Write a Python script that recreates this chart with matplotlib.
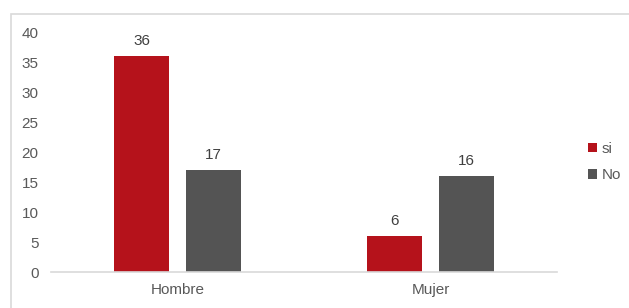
import matplotlib.pyplot as plt
import numpy as np
from matplotlib.patches import Rectangle

categories = ['Hombre', 'Mujer']
si_values = [36, 6]
no_values = [17, 16]
series_names = ['si', 'No']

plt.rcParams['font.family'] = ['Liberation Sans', 'DejaVu Sans']

W, H = 629, 308
fig = plt.figure(figsize=(W / 100, H / 100), dpi=100)
ax = fig.add_axes([51 / W, (H - 272) / H, (557 - 51) / W, (272 - 32) / H])

# outer chart border (only top/left visible in the original)
fig.patches.append(Rectangle((11 / W, -0.5), 2, 0.5 + (H - 14) / H,
                             transform=fig.transFigure, fill=False,
                             edgecolor='#d9d9d9', linewidth=1.2))

x = np.arange(len(categories))
w = 0.22
off = 0.142
red = '#b5121b'
grey = '#545454'
text_c = '#595959'

b1 = ax.bar(x - off, si_values, w, color=red, label=series_names[0])
b2 = ax.bar(x + off, no_values, w, color=grey, label=series_names[1])

for bars in (b1, b2):
    for r in bars:
        ax.annotate(f'{int(r.get_height())}', xy=(r.get_x() + r.get_width() / 2, r.get_height()),
                    xytext=(0, 6), textcoords='offset points', ha='center', va='bottom',
                    fontsize=11, color='#404040')

ax.set_xlim(-0.5, 1.5)
ax.set_ylim(0, 40)
ax.set_yticks(range(0, 41, 5))
ax.set_xticks(x)
ax.set_xticklabels(categories)
ax.tick_params(length=0, labelsize=11, colors=text_c, pad=8)
ax.tick_params(axis='y', pad=9)
for s in ['top', 'right', 'left']:
    ax.spines[s].set_visible(False)
ax.spines['bottom'].set_color('#d9d9d9')
ax.spines['bottom'].set_linewidth(1.2)

fig.legend(loc='center left', bbox_to_anchor=(574 / W, (H - 162) / H), frameon=False,
           fontsize=11, handlelength=0.6, handleheight=0.6, handletextpad=0.3,
           labelspacing=0.8, labelcolor=text_c)

fig.savefig('out.png', dpi=100)
